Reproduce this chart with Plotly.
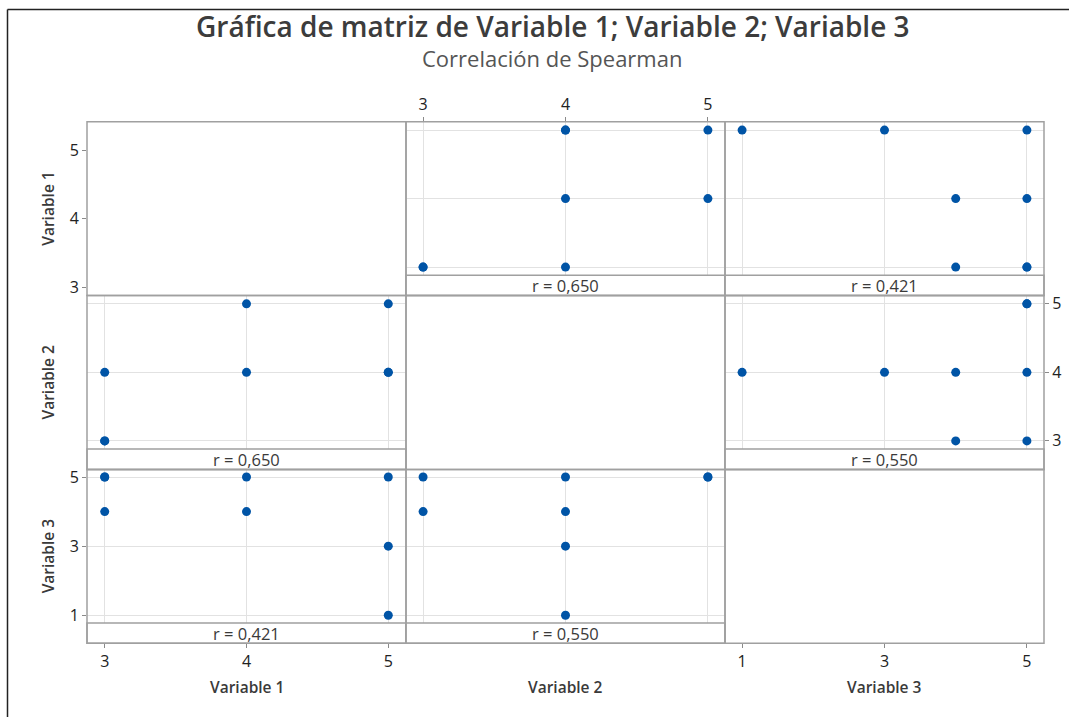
import plotly.graph_objects as go

W, H = 1069, 717

# ---------------- data ----------------
var_names = ["Variable 1", "Variable 2", "Variable 3"]
variable_1 = [5, 5, 5, 4, 4, 3, 3, 3]
variable_2 = [4, 4, 5, 4, 5, 3, 4, 3]
variable_3 = [1, 3, 5, 4, 5, 4, 5, 5]
variables = [variable_1, variable_2, variable_3]

ticks_v1 = [3, 4, 5]
ticks_v2 = [3, 4, 5]
ticks_v3 = [1, 3, 5]
tick_sets = [ticks_v1, ticks_v2, ticks_v3]

spearman_r = {(0, 1): "0,650", (0, 2): "0,421", (1, 2): "0,550"}

title_text = "Gráfica de matriz de Variable 1; Variable 2; Variable 3"
subtitle_text = "Correlación de Spearman"

# ---------------- layout geometry (pixels) ----------------
cols = [(87, 406), (406, 725), (725, 1044)]
rows = [(119, 294.5), (294.5, 470), (470, 645.5)]
strip_h = 20.5
x_ranges = [[2.875, 5.125], [2.88, 5.12], [0.76, 5.24]]
y_ranges = [[2.88, 5.12], [2.88, 5.12], [0.78, 5.22]]

FONT = "Segoe UI, Open Sans, sans-serif"
GRID = "#e2e2e2"
BORDER = "#a0a0a0"
TICKCOL = "#8a8a8a"
TXT = "#222222"
BLUE = "#0054a6"


def xd(x0, x1):
    return [x0 / W, x1 / W]


def yd(y0, y1):
    return [1 - y1 / H, 1 - y0 / H]


fig = go.Figure()
layout_axes = {}
k = 0


def base_axis(**kw):
    d = dict(showline=False, zeroline=False, showgrid=False,
             showticklabels=False, ticks="", fixedrange=True,
             tickfont=dict(family=FONT, size=16, color=TXT),
             tickcolor=TICKCOL, ticklen=4, tickwidth=1)
    d.update(kw)
    return d


def add_sub(xax, yax, x=None, y=None):
    global k
    k += 1
    xn = "x" if k == 1 else f"x{k}"
    yn = "y" if k == 1 else f"y{k}"
    xax["anchor"] = yn
    yax["anchor"] = xn
    layout_axes["xaxis" if k == 1 else f"xaxis{k}"] = xax
    layout_axes["yaxis" if k == 1 else f"yaxis{k}"] = yax
    fig.add_trace(go.Scatter(
        x=x if x is not None else [], y=y if y is not None else [],
        xaxis=xn, yaxis=yn, mode="markers",
        marker=dict(color=BLUE, size=9), hoverinfo="skip", showlegend=False))


shapes = []
annotations = []

for i in range(3):
    for j in range(3):
        cx0, cx1 = cols[j]
        cy0, cy1 = rows[i]
        if i != j:
            xax = base_axis(domain=xd(cx0, cx1), range=x_ranges[j],
                            tickvals=tick_sets[j], showgrid=True,
                            gridcolor=GRID, gridwidth=1)
            yax = base_axis(domain=yd(cy0, cy1 - strip_h), range=y_ranges[i],
                            tickvals=tick_sets[i], showgrid=True,
                            gridcolor=GRID, gridwidth=1)
            if (i, j) == (0, 1):
                xax.update(side="top", showticklabels=True, ticks="outside")
            if (i, j) == (1, 2):
                yax.update(side="right", showticklabels=True, ticks="outside")
            if (i, j) == (2, 0):
                yax.update(side="left", showticklabels=True, ticks="outside")
            add_sub(xax, yax, x=variables[j], y=variables[i])
            # strip
            key = (min(i, j), max(i, j))
            shapes.append(dict(type="rect", xref="paper", yref="paper",
                               x0=cx0 / W, x1=cx1 / W,
                               y0=1 - cy1 / H, y1=1 - (cy1 - strip_h) / H,
                               line=dict(color=BORDER, width=1.5),
                               fillcolor="white", layer="above"))
            annotations.append(dict(
                text=f"r = {spearman_r[key]}", xref="paper", yref="paper",
                x=(cx0 + cx1) / 2 / W, y=1 - (cy1 - strip_h / 2) / H,
                xanchor="center", yanchor="middle", showarrow=False,
                font=dict(family=FONT, size=16.5, color="#3a3a3a")))
        # cell border
        shapes.append(dict(type="rect", xref="paper", yref="paper",
                           x0=cx0 / W, x1=cx1 / W,
                           y0=1 - cy1 / H, y1=1 - cy0 / H,
                           line=dict(color=BORDER, width=1.5), layer="above"))

# diagonal (0,0): left ticks for Variable 1 (shifted by the strip height)
add_sub(base_axis(domain=xd(*cols[0]), range=x_ranges[0]),
        base_axis(domain=yd(rows[0][0] + strip_h, rows[0][1]),
                  range=y_ranges[0], tickvals=tick_sets[0],
                  showticklabels=True, ticks="outside", side="left"))
# diagonal (2,2): bottom ticks for Variable 3
add_sub(base_axis(domain=xd(*cols[2]), range=x_ranges[2],
                  tickvals=tick_sets[2], showticklabels=True,
                  ticks="outside", side="bottom"),
        base_axis(domain=yd(*rows[2]), range=y_ranges[2]))
# strip (2,0): bottom ticks for Variable 1
add_sub(base_axis(domain=xd(*cols[0]), range=x_ranges[0],
                  tickvals=tick_sets[0], showticklabels=True,
                  ticks="outside", side="bottom"),
        base_axis(domain=yd(rows[2][1] - strip_h, rows[2][1]), range=[0, 1]))

# axis titles
for j in range(3):
    annotations.append(dict(
        text=var_names[j], xref="paper", yref="paper",
        x=(cols[j][0] + cols[j][1]) / 2 / W, y=1 - 690 / H,
        xanchor="center", yanchor="middle", showarrow=False,
        font=dict(family=FONT, size=15.5, color="#3a3a3a", weight=600)))
for i in range(3):
    annotations.append(dict(
        text=var_names[i], xref="paper", yref="paper",
        x=48 / W, y=1 - (rows[i][0] + rows[i][1]) / 2 / H,
        xanchor="center", yanchor="middle", showarrow=False, textangle=-90,
        font=dict(family=FONT, size=15.5, color="#3a3a3a", weight=600)))

# title + subtitle
annotations.append(dict(
    text=title_text, xref="paper", yref="paper", x=553 / W, y=1 - 22 / H,
    xanchor="center", yanchor="middle", showarrow=False,
    font=dict(family=FONT, size=28, color="#3c3c3c", weight=600)))
annotations.append(dict(
    text=subtitle_text, xref="paper", yref="paper", x=552 / W, y=1 - 55 / H,
    xanchor="center", yanchor="middle", showarrow=False,
    font=dict(family=FONT, size=22, color="#555555")))

# outer frame (left and top edges)
shapes.append(dict(type="line", xref="paper", yref="paper",
                   x0=7.5 / W, x1=7.5 / W, y0=-0.05, y1=1 - 5.5 / H,
                   line=dict(color="#222222", width=1.5)))
shapes.append(dict(type="line", xref="paper", yref="paper",
                   x0=7.5 / W, x1=1.05, y0=1 - 5.5 / H, y1=1 - 5.5 / H,
                   line=dict(color="#222222", width=1.5)))

fig.update_layout(
    width=W, height=H, autosize=False,
    margin=dict(l=0, r=0, t=0, b=0, pad=0),
    paper_bgcolor="white", plot_bgcolor="white",
    shapes=shapes, annotations=annotations,
    font=dict(family=FONT, color=TXT),
    **layout_axes)

fig.write_html("out.html",
               post_script="document.body.style.margin='0';document.body.style.overflow='hidden';",
               config={"displayModeBar": False})
